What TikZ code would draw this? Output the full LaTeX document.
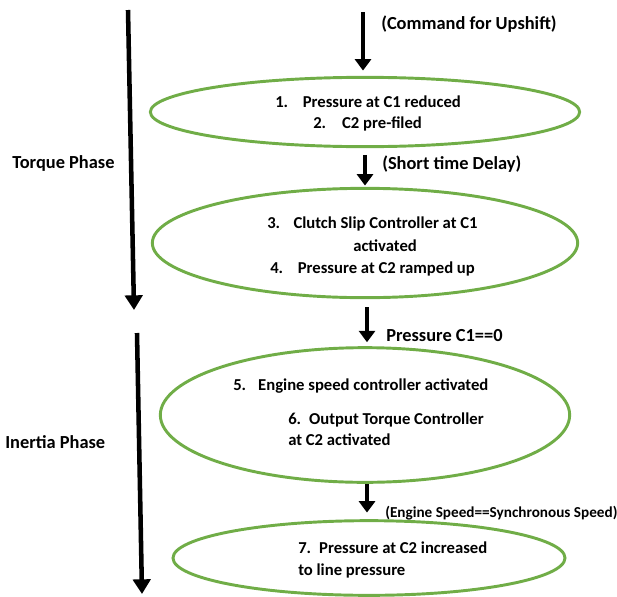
\documentclass[tikz,border=0pt]{standalone}
\usepackage{fontspec}
\setmainfont{Carlito}
\usetikzlibrary{arrows.meta,shapes.geometric}
\definecolor{phasegreen}{HTML}{70AD47}
\begin{document}
\begin{tikzpicture}[x=0.75pt,y=-0.75pt,
  stage/.style={ellipse,draw=phasegreen,line width=2.2pt,inner sep=0pt},
  txt/.style={anchor=base west,inner sep=0pt,font=\fontsize{12.5}{15}\selectfont\bfseries},
  lbl/.style={anchor=base west,inner sep=0pt,font=\fontsize{13.8}{16}\selectfont\bfseries},
  small/.style={anchor=base west,inner sep=0pt,font=\fontsize{11.4}{13}\selectfont\bfseries},
  flow/.style={line width=2.6pt,-{Triangle[width=12pt,length=8.5pt]}},
  phase/.style={line width=3.4pt,-{Triangle[width=13pt,length=11pt]}}]
\useasboundingbox (0,0) rectangle (617,596);
% phases
\coordinate (p1) at (128,10);
\coordinate (p1e) at (134,310);
\coordinate (p2) at (137,333);
\coordinate (p2e) at (142,594);
\draw[phase] (p1) -- (p1e);
\draw[phase] (p2) -- (p2e);
\node[lbl] (torque) at (12,168) {Torque Phase};
\node[lbl] (inertia) at (5,448) {Inertia Phase};
% stages
\node[stage,minimum width=322pt,minimum height=52pt] (e1) at (365,112) {};
\node[stage,minimum width=319pt,minimum height=82pt] (e2) at (365,243) {};
\node[stage,minimum width=307pt,minimum height=101pt] (e3) at (365,415) {};
\node[stage,minimum width=294pt,minimum height=56pt] (e4) at (369,558) {};
\node[txt] (t1) at (275,107) {1.\hspace{11pt}Pressure at C1 reduced};
\node[txt] (t2) at (313,128) {2.\hspace{12pt}C2 pre-filed};
\node[txt] (t3) at (267,228) {3.\hspace{10pt}Clutch Slip Controller at C1};
\node[txt] (t4) at (353,251) {activated};
\node[txt] (t5) at (270,273) {4.\hspace{11pt}Pressure at C2 ramped up};
\node[txt] (t6) at (233,390) {5.\hspace{9pt}Engine speed controller activated};
\node[txt] (t7) at (288,424) {6.\hspace{6pt}Output Torque Controller};
\node[txt] (t8) at (288,445) {at C2 activated};
\node[txt] (t9) at (298,553) {7.\hspace{6pt}Pressure at C2 increased};
\node[txt] (t10) at (298,575) {to line pressure};
% transitions
\coordinate (start) at (363,12);
\draw[flow,shorten >=4pt] (start) -- (start |- e1.north);
\draw[flow,shorten <=5pt,shorten >=1pt] (e1.south) -- (e2.north);
\draw[flow,shorten <=6pt,shorten >=3pt] ([xshift=1.5pt]e2.south) -- ([xshift=1.5pt]e3.north);
\draw[flow,shorten >=5pt] ([xshift=1.5pt]e3.south) -- ([xshift=1.5pt]e3.south |- e4.north);
\node[lbl] (l1) at (381,29) {(Command for Upshift)};
\node[lbl] (l2) at (382,169) {(Short time Delay)};
\node[lbl] (l3) at (386,341) {Pressure C1==0};
\node[small] (l4) at (385,517) {(Engine Speed==Synchronous Speed)};
\end{tikzpicture}
\end{document}
